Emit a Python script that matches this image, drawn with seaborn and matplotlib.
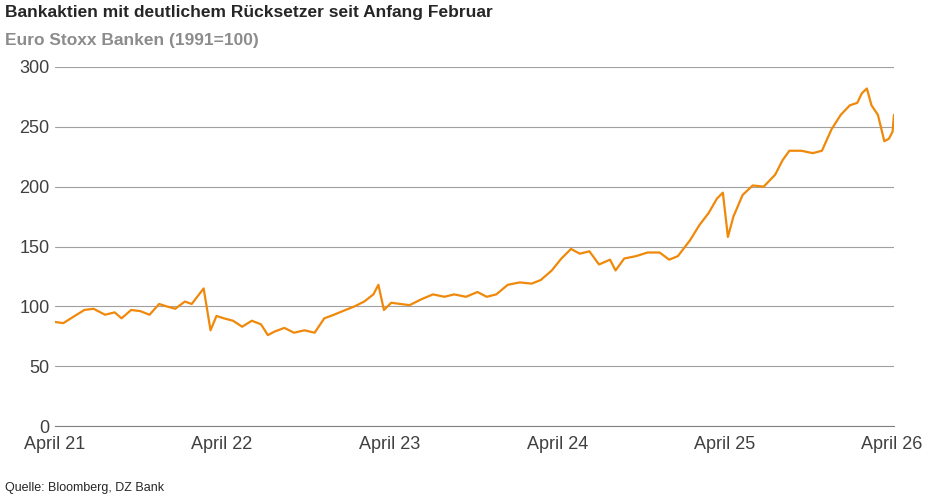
import matplotlib
matplotlib.use("Agg")
import matplotlib.pyplot as plt
import seaborn as sns
import pandas as pd

dates = ["2021-04-01","2021-04-20","2021-05-15","2021-06-05","2021-06-25","2021-07-20","2021-08-10","2021-08-25","2021-09-15","2021-10-05","2021-10-25","2021-11-15","2021-12-01","2021-12-20",
"2022-01-10","2022-01-25","2022-02-10","2022-02-20","2022-03-07","2022-03-20","2022-04-05","2022-04-25","2022-05-15","2022-06-05","2022-06-25","2022-07-10","2022-07-25","2022-08-15","2022-09-05","2022-09-28","2022-10-20","2022-11-10","2022-12-01","2022-12-20",
"2023-01-15","2023-02-05","2023-02-25","2023-03-08","2023-03-20","2023-04-05","2023-04-25","2023-05-15","2023-06-10","2023-07-05","2023-07-30","2023-08-20","2023-09-15","2023-10-10","2023-10-30","2023-11-20","2023-12-15",
"2024-01-10","2024-02-05","2024-02-25","2024-03-20","2024-04-10","2024-05-01","2024-05-20","2024-06-10","2024-07-01","2024-07-25","2024-08-06","2024-08-25","2024-09-20","2024-10-15","2024-11-10","2024-12-01","2024-12-20",
"2025-01-15","2025-02-05","2025-02-25","2025-03-15","2025-03-28","2025-04-08","2025-04-20","2025-05-10","2025-06-01","2025-06-25","2025-07-20","2025-08-05","2025-08-20","2025-09-15","2025-10-10","2025-10-30","2025-11-20","2025-12-10","2025-12-30",
"2026-01-15","2026-01-25","2026-02-05","2026-02-15","2026-03-01","2026-03-15","2026-03-25","2026-04-02","2026-04-05"]
values = [87,86,92,97,98,93,95,90,97,96,93,102,100,98,
104,102,110,115,80,92,90,88,83,88,85,76,79,82,78,80,78,90,93,96,
100,104,110,118,97,103,102,101,106,110,108,110,108,112,108,110,118,
120,119,122,130,140,148,144,146,135,139,130,140,142,145,145,139,142,
155,168,178,190,195,158,175,193,201,200,210,222,230,230,228,230,248,260,268,
270,278,282,268,260,238,240,246,260]

df = pd.DataFrame({"date": pd.to_datetime(dates), "value": values})

sns.set_style("white")
plt.rcParams['font.family'] = ['Liberation Sans', 'DejaVu Sans']
fig, ax = plt.subplots(figsize=(9.41, 4.96), dpi=100)
fig.subplots_adjust(left=0.058, right=0.95, top=0.865, bottom=0.141)
sns.lineplot(data=df, x="date", y="value", color="#F0880A", lw=1.6, ax=ax)
ax.set_ylim(0, 300)
ax.set_yticks(range(0, 301, 50))
ax.set_xlim(pd.Timestamp("2021-04-01"), pd.Timestamp("2026-04-05"))
ticks = [pd.Timestamp(f"20{y}-04-01") for y in range(21, 27)]
ax.set_xticks(ticks)
ax.set_xticklabels([f"April {y}" for y in range(21, 27)])
ax.grid(axis="y", color="#A0A0A0", lw=0.8)
ax.set_xlabel(""); ax.set_ylabel("")
for s in ["top", "right", "left"]:
    ax.spines[s].set_visible(False)
ax.spines["bottom"].set_color("#808080")
ax.tick_params(labelsize=13, colors="#404040", length=0)
ax.tick_params(axis="x", length=4, colors="#404040")
fig.text(0.005, 0.965, "Bankaktien mit deutlichem Rücksetzer seit Anfang Februar", fontsize=12.5, fontweight="bold")
fig.text(0.005, 0.91, "Euro Stoxx Banken (1991=100)", fontsize=12.5, fontweight="bold", color="#8C8C8C")
fig.text(0.005, 0.01, "Quelle: Bloomberg, DZ Bank", fontsize=9)
fig.savefig("out.png")
